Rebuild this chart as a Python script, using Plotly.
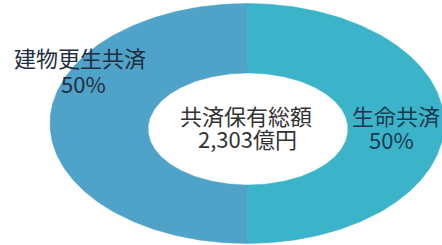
import numpy as np
import plotly.graph_objects as go

categories = ["生命共済", "建物更生共済"]
values = [50, 50]
pct_labels = ["50%", "50%"]
colors = ["#3bb4c9", "#4fa2c8"]
center_title = "共済保有総額"
center_value = "2,303億円"

# geometry (pixel-space axes)
W, H = 442, 245
cx, cy, rx, ry = 247, 123.5, 197, 120
icx, icy, irx, iry = 248, 129, 100, 56

fig = go.Figure()
total = sum(values)
start = 0.0
for cat, v, col in zip(categories, values, colors):
    a0 = start / total * 2 * np.pi
    a1 = (start + v) / total * 2 * np.pi
    t = np.linspace(a0, a1, 200)
    xo = cx + rx * np.sin(t)
    yo = cy - ry * np.cos(t)
    xi = icx + irx * np.sin(t[::-1])
    yi = icy - iry * np.cos(t[::-1])
    xs = np.concatenate([xo, xi, xo[:1]])
    ys = np.concatenate([yo, yi, yo[:1]])
    fig.add_trace(go.Scatter(x=xs, y=ys, fill="toself", fillcolor=col,
                             line=dict(color=col, width=0.5), mode="lines",
                             hoverinfo="text", text=cat, showlegend=False))
    start += v

font = "Noto Sans CJK JP"
ann = [
    (80, 57, categories[1], "#1f2f3f"),
    (83, 83, pct_labels[1], "#1f2f3f"),
    (396, 115, categories[0], "#173a50"),
    (391, 139, pct_labels[0], "#173a50"),
    (246, 115, center_title, "#333333"),
    (247, 138, center_value, "#333333"),
]
for x, y, t, c in ann:
    fig.add_annotation(x=x, y=y, xref="x", yref="y", text=t, showarrow=False,
                       font=dict(family=font, size=22, color=c),
                       xanchor="center", yanchor="middle")

fig.update_layout(
    width=W, height=H, margin=dict(l=0, r=0, t=0, b=0),
    paper_bgcolor="white", plot_bgcolor="white",
    xaxis=dict(range=[0, W], visible=False, fixedrange=True),
    yaxis=dict(range=[H, 0], visible=False, fixedrange=True),
)
fig.write_html("out.html", config={"displayModeBar": False},
               post_script="document.body.style.margin='0';")
